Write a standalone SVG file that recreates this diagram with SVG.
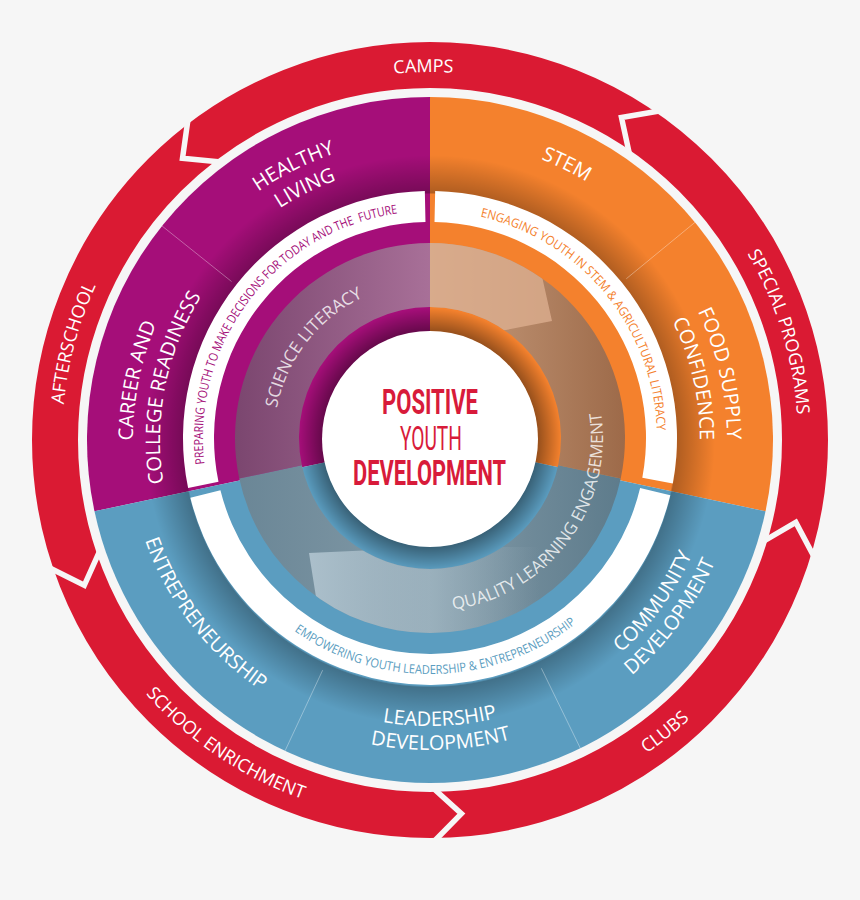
<svg xmlns="http://www.w3.org/2000/svg" width="860" height="900" viewBox="0 0 860 900">
<defs>
<style>
.bg{fill:#f6f6f6}
.red-label{font-family:'Open Sans','Liberation Sans',sans-serif;font-size:18px;fill:#ffffff}
.seg-label{font-family:'Open Sans','Liberation Sans',sans-serif;font-size:20px;fill:#ffffff}
.mission{font-family:'Open Sans','Liberation Sans',sans-serif;font-size:12.5px}
.band-label{font-family:'Open Sans','Liberation Sans',sans-serif;font-size:17px;fill:#ffffff;fill-opacity:0.8}
.center-title{font-family:'Liberation Sans Narrow','Roboto','Liberation Sans',sans-serif;fill:#d81b3a}
.sep{fill:none;stroke:#f6f6f6;stroke-width:5.5;stroke-linejoin:miter}
.div{stroke:#ffffff;stroke-opacity:0.35;stroke-width:1}
.wband{fill:#ffffff}
</style>
<path id="cw368" d="M430,808 A368,368 0 1 1 430,72 A368,368 0 1 1 430,808"/>
<path id="ccw381" d="M430,59 A381,381 0 1 0 430,821 A381,381 0 1 0 430,59"/>
<path id="cw302" d="M430,742 A302,302 0 1 1 430,138 A302,302 0 1 1 430,742"/>
<path id="cw276" d="M430,716 A276,276 0 1 1 430,164 A276,276 0 1 1 430,716"/>
<path id="cw297" d="M430,737 A297,297 0 1 1 430,143 A297,297 0 1 1 430,737"/>
<path id="cw270" d="M430,710 A270,270 0 1 1 430,170 A270,270 0 1 1 430,710"/>
<path id="ccw302" d="M430,138 A302,302 0 1 0 430,742 A302,302 0 1 0 430,138"/>
<path id="ccw286" d="M430,154 A286,286 0 1 0 430,726 A286,286 0 1 0 430,154"/>
<path id="ccw310" d="M430,130 A310,310 0 1 0 430,750 A310,310 0 1 0 430,130"/>
<path id="cw227" d="M430,665 A227,227 0 1 1 430,211 A227,227 0 1 1 430,665"/>
<path id="ccw236" d="M430,202 A236,236 0 1 0 430,674 A236,236 0 1 0 430,202"/>
<path id="cw156" d="M430,594 A156,156 0 1 1 430,282 A156,156 0 1 1 430,594"/>
<path id="ccw173" d="M430,265 A173,173 0 1 0 430,611 A173,173 0 1 0 430,265"/>
<linearGradient id="gPurpleBand" gradientUnits="userSpaceOnUse" x1="235" y1="0" x2="430" y2="0">
<stop offset="0" stop-color="#7b466f"/><stop offset="1" stop-color="#a87098"/>
</linearGradient>
<linearGradient id="gOrangeBand" gradientUnits="userSpaceOnUse" x1="430" y1="0" x2="625" y2="0">
<stop offset="0" stop-color="#c99f80"/><stop offset="1" stop-color="#9d6a49"/>
</linearGradient>
<linearGradient id="gBlueBand" gradientUnits="userSpaceOnUse" x1="235" y1="0" x2="625" y2="0">
<stop offset="0" stop-color="#6a8696"/><stop offset="0.35" stop-color="#7b94a2"/><stop offset="0.5" stop-color="#88a0ad"/><stop offset="0.75" stop-color="#6f8a99"/><stop offset="1" stop-color="#5d7b8b"/>
</linearGradient>
<linearGradient id="gRibbonBlue" gradientUnits="userSpaceOnUse" x1="310" y1="0" x2="540" y2="0">
<stop offset="0" stop-color="#b5c8d3" stop-opacity="0.85"/><stop offset="1" stop-color="#b5c8d3" stop-opacity="0"/>
</linearGradient>
<radialGradient id="segShadow" gradientUnits="userSpaceOnUse" cx="430" cy="440" r="285">
<stop offset="0" stop-color="#000" stop-opacity="0"/><stop offset="0.862" stop-color="#000" stop-opacity="0"/><stop offset="0.868" stop-color="#000" stop-opacity="0.28"/><stop offset="1" stop-color="#000" stop-opacity="0"/>
</radialGradient>
<radialGradient id="coreShadow" gradientUnits="userSpaceOnUse" cx="430" cy="439" r="131">
<stop offset="0" stop-color="#000" stop-opacity="0"/><stop offset="0.815" stop-color="#000" stop-opacity="0"/><stop offset="0.825" stop-color="#000" stop-opacity="0.38"/><stop offset="1" stop-color="#000" stop-opacity="0"/>
</radialGradient>
<clipPath id="clipOrangeBand"><path d="M430,243 A195,195 0 0 1 620.74,478.54 L558.14,465.24 A131,131 0 0 0 430,307 Z"/></clipPath>
<clipPath id="clipBlueBand"><path d="M620.74,478.54 A195,195 0 0 1 239.26,478.54 L301.86,465.24 A131,131 0 0 0 558.14,465.24 Z"/></clipPath>
</defs>

<rect class="bg" x="0" y="0" width="860" height="900"/>

<!-- outer red arrow ring -->
<g id="program-ring">
<circle cx="430" cy="440" r="375" fill="none" stroke="#da1a33" stroke-width="46"/>
</g>
<g id="connectors">
<polyline class="sep" points="814.43,557.53 795.82,522.44 762.79,541.74"/>
<polyline class="sep" points="433.51,841.98 461.38,813.68 433.04,787.99"/>
<polyline class="sep" points="48.78,567.55 84.30,585.32 99.98,550.42"/>
<polyline class="sep" points="188.07,118.95 182.50,158.26 220.57,162.07"/>
<polyline class="sep" points="660.58,110.70 621.49,117.58 629.61,154.94"/>
</g>
<g id="camps"><text class="red-label" text-anchor="middle"><textPath href="#cw368" startOffset="49.72%">CAMPS</textPath></text></g>
<g id="special-programs"><text class="red-label" text-anchor="middle"><textPath href="#cw368" startOffset="70.22%">SPECIAL PROGRAMS</textPath></text></g>
<g id="afterschool"><text class="red-label" text-anchor="middle"><textPath href="#cw368" startOffset="29.22%">AFTERSCHOOL</textPath></text></g>
<g id="school-enrichment"><text class="red-label" text-anchor="middle"><textPath href="#ccw381" startOffset="40.58%">SCHOOL ENRICHMENT</textPath></text></g>
<g id="clubs"><text class="red-label" text-anchor="middle"><textPath href="#ccw381" startOffset="60.78%">CLUBS</textPath></text></g>

<!-- coloured sectors -->
<g id="sector-purple"><path d="M430,440 L94.49,511.31 A343,343 0 0 1 430,97 Z" fill="#a50e79"/></g>
<g id="sector-orange"><path d="M430,440 L430,97 A343,343 0 0 1 765.51,511.31 Z" fill="#f4812d"/></g>
<g id="sector-blue"><path d="M430,440 L765.51,511.31 A343,343 0 0 1 94.49,511.31 Z" fill="#5b9dc0"/></g>
<circle cx="430" cy="440" r="285" fill="url(#segShadow)"/>
<g id="segment-dividers">
<line class="div" x1="231.54" y1="281.50" x2="162.00" y2="225.96"/>
<line class="div" x1="626.27" y1="278.77" x2="695.05" y2="222.27"/>
<line class="div" x1="541.35" y1="668.29" x2="580.36" y2="748.29"/>
<line class="div" x1="322.65" y1="670.20" x2="285.04" y2="750.86"/>
</g>

<g id="healthy-living">
<text class="seg-label" text-anchor="middle"><textPath href="#cw302" startOffset="42.64%">HEALTHY</textPath></text>
<text class="seg-label" text-anchor="middle"><textPath href="#cw276" startOffset="42.67%">LIVING</textPath></text>
</g>
<g id="career-college">
<text class="seg-label" text-anchor="middle"><textPath href="#cw297" startOffset="28.19%">CAREER AND</textPath></text>
<text class="seg-label" text-anchor="middle"><textPath href="#cw270" startOffset="28.19%">COLLEGE READINESS</textPath></text>
</g>
<g id="stem"><text class="seg-label" text-anchor="middle"><textPath href="#cw302" startOffset="57.33%">STEM</textPath></text></g>
<g id="food-supply">
<text class="seg-label" text-anchor="middle"><textPath href="#cw297" startOffset="71.42%">FOOD SUPPLY</textPath></text>
<text class="seg-label" text-anchor="middle"><textPath href="#cw270" startOffset="71.36%">CONFIDENCE</textPath></text>
</g>
<g id="entrepreneurship"><text class="seg-label" text-anchor="middle"><textPath href="#ccw302" startOffset="35.47%">ENTREPRENEURSHIP</textPath></text></g>
<g id="leadership-development">
<text class="seg-label" text-anchor="middle"><textPath href="#ccw286" startOffset="50.56%">LEADERSHIP</textPath></text>
<text class="seg-label" text-anchor="middle"><textPath href="#ccw310" startOffset="50.56%">DEVELOPMENT</textPath></text>
</g>
<g id="community-development">
<text class="seg-label" text-anchor="middle"><textPath href="#ccw286" startOffset="65.03%">COMMUNITY</textPath></text>
<text class="seg-label" text-anchor="middle"><textPath href="#ccw310" startOffset="64.92%">DEVELOPMENT</textPath></text>
</g>

<!-- mission bands -->
<g id="mission-purple">
<path class="wband" d="M188.13,488.09 A247,247 0 0 1 424.83,191.05 L425.48,222.05 A216,216 0 0 0 218.49,481.80 Z"/>
<text class="mission" fill="#a50e79" xml:space="preserve" textLength="350" lengthAdjust="spacingAndGlyphs"><textPath href="#cw227" startOffset="23.17%">PREPARING YOUTH TO MAKE DECISIONS FOR TODAY AND THE  FUTURE</textPath></text>
</g>
<g id="mission-orange">
<path class="wband" d="M435.17,191.05 A247,247 0 0 1 672.79,483.44 L642.32,477.73 A216,216 0 0 0 434.52,222.05 Z"/>
<text class="mission" fill="#f4812d" textLength="298" lengthAdjust="spacingAndGlyphs"><textPath href="#cw227" startOffset="53.56%">ENGAGING YOUTH IN STEM &amp; AGRICULTURAL LITERACY</textPath></text>
</g>
<g id="mission-blue">
<path class="wband" d="M670.28,495.24 A247,247 0 0 1 190.34,497.75 L220.42,490.25 A216,216 0 0 0 640.12,488.06 Z"/>
<text class="mission" fill="#5b9dc0" textLength="302" lengthAdjust="spacingAndGlyphs"><textPath href="#ccw236" startOffset="40.25%">EMPOWERING YOUTH LEADERSHIP &amp; ENTREPRENEURSHIP</textPath></text>
</g>

<!-- translucent literacy band -->
<g id="literacy-band">
<path d="M239.26,478.54 A195,195 0 0 1 430,243 L430,307 A131,131 0 0 0 301.86,465.24 Z" fill="url(#gPurpleBand)"/>
<path d="M430,243 A195,195 0 0 1 620.74,478.54 L558.14,465.24 A131,131 0 0 0 430,307 Z" fill="url(#gOrangeBand)"/>
<path d="M620.74,478.54 A195,195 0 0 1 239.26,478.54 L301.86,465.24 A131,131 0 0 0 558.14,465.24 Z" fill="url(#gBlueBand)"/>
<polygon points="420,230 536,232 541,272 552,321 506,330 420,340" fill="#dcae8e" fill-opacity="0.8" clip-path="url(#clipOrangeBand)"/>
<polygon points="309,553 440,547 600,547 600,660 326,660" fill="url(#gRibbonBlue)" clip-path="url(#clipBlueBand)"/>
</g>
<g id="science-literacy"><text class="band-label" text-anchor="middle"><textPath href="#cw156" startOffset="35.5%">SCIENCE LITERACY</textPath></text></g>
<g id="quality-learning"><text class="band-label" text-anchor="middle"><textPath href="#ccw173" startOffset="64.75%">QUALITY LEARNING ENGAGEMENT</textPath></text></g>

<!-- centre -->
<circle cx="430" cy="439" r="131" fill="url(#coreShadow)"/>
<g id="positive-youth-development">
<circle cx="430" cy="439" r="108" fill="#ffffff"/>
<text class="center-title" x="382" y="413.5" font-size="35" font-weight="bold" textLength="96" lengthAdjust="spacingAndGlyphs">POSITIVE</text>
<text class="center-title" x="400" y="450" font-size="32.5" textLength="62" lengthAdjust="spacingAndGlyphs">YOUTH</text>
<text class="center-title" x="353" y="485" font-size="35" font-weight="bold" textLength="153" lengthAdjust="spacingAndGlyphs">DEVELOPMENT</text>
</g>
</svg>
